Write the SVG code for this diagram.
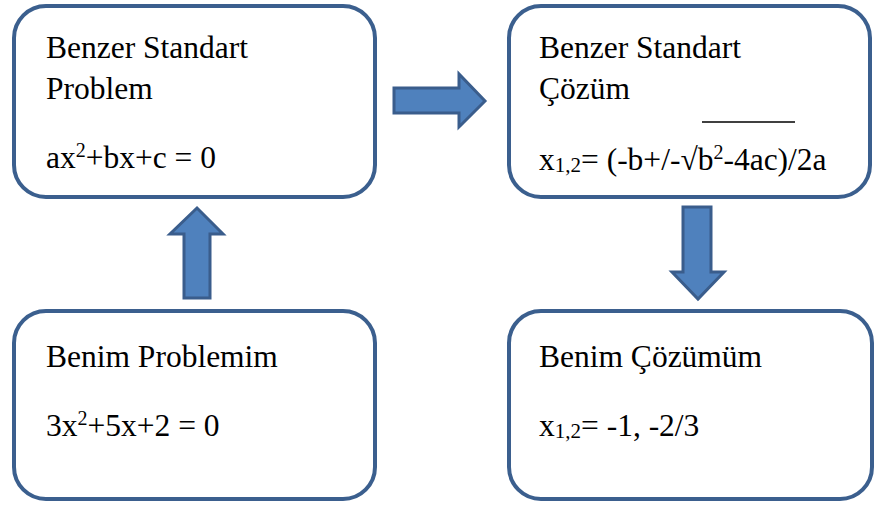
<svg xmlns="http://www.w3.org/2000/svg" width="877" height="505" viewBox="0 0 877 505">
<style>
.box{fill:#fff;stroke:#3b5f8e;stroke-width:4}
.arr{fill:#4f81bd;stroke:#3a5d8c;stroke-width:3;stroke-linejoin:miter}
</style>
<rect width="877" height="505" fill="#fff"/>
<g id="benzer-problem">
<rect class="box" x="14" y="6" width="361" height="191" rx="32"/>
<text x="46" y="58" font-family="Liberation Serif" font-size="31.5">Benzer Standart</text>
<text x="46" y="99" font-family="Liberation Serif" font-size="31.5">Problem</text>
<text x="46" y="168" font-family="Liberation Serif" font-size="31.5">ax<tspan font-size="20" dy="-11">2</tspan><tspan dy="11">+bx+c = 0</tspan></text>
</g>
<g id="benzer-cozum">
<rect class="box" x="509" y="6" width="361" height="191" rx="32"/>
<text x="539" y="58" font-family="Liberation Serif" font-size="31.5">Benzer Standart</text>
<text x="539" y="99" font-family="Liberation Serif" font-size="31.5">Çözüm</text>
<line x1="702" y1="122" x2="795" y2="122" stroke="#000" stroke-width="1.6"/>
<text x="539" y="170" font-family="Liberation Serif" font-size="31.5">x<tspan font-size="21" dy="2">1,2</tspan><tspan dy="-2">= (-b+/-√b</tspan><tspan font-size="20" dy="-11">2</tspan><tspan dy="11">-4ac)/2a</tspan></text>
</g>
<g id="benim-problem">
<rect class="box" x="14" y="311" width="361" height="188" rx="32"/>
<text x="46" y="367" font-family="Liberation Serif" font-size="31.5">Benim Problemim</text>
<text x="46" y="436" font-family="Liberation Serif" font-size="31.5">3x<tspan font-size="20" dy="-11">2</tspan><tspan dy="11">+5x+2 = 0</tspan></text>
</g>
<g id="benim-cozum">
<rect class="box" x="509" y="311" width="363" height="188" rx="32"/>
<text x="539" y="367" font-family="Liberation Serif" font-size="31.5">Benim Çözümüm</text>
<text x="539" y="436" font-family="Liberation Serif" font-size="31.5">x<tspan font-size="21" dy="2">1,2</tspan><tspan dy="-2">= -1, -2/3</tspan></text>
</g>
<g id="connectors">
<polygon class="arr" points="184,298 210,298 210,234 223,234 197,208 170,234 184,234"/>
<polygon class="arr" points="394,88 459,88 459,74 485,101 459,127 459,113 394,113"/>
<polygon class="arr" points="683,207 711,207 711,272 724,272 698,299 672,272 683,272"/>
</g>
</svg>
